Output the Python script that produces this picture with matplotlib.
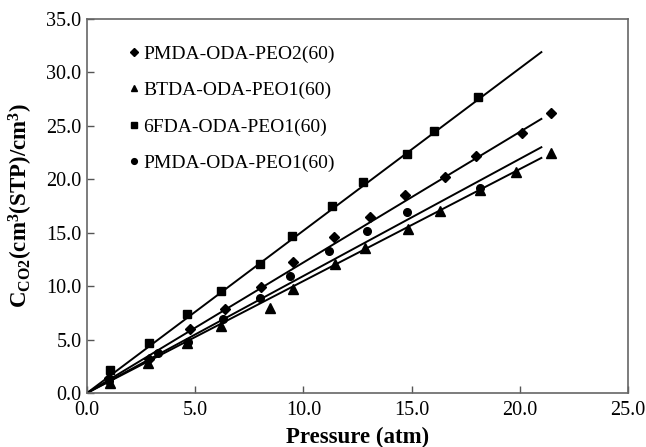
import matplotlib
matplotlib.use("Agg")
import matplotlib.pyplot as plt
import numpy as np

plt.rcParams['font.family'] = ['Liberation Serif', 'DejaVu Serif']
plt.rcParams['mathtext.fontset'] = 'custom'
plt.rcParams['mathtext.rm'] = 'Liberation Serif'
plt.rcParams['mathtext.bf'] = 'Liberation Serif:bold'

# PMDA-ODA-PEO2(60)  (diamonds)
p2_x = [1.0, 2.85, 4.75, 6.4, 8.05, 9.5, 11.4, 13.1, 14.7, 16.55, 18.0, 20.1, 21.45]
p2_y = [1.4, 3.15, 5.95, 7.85, 9.95, 12.25, 14.6, 16.5, 18.5, 20.25, 22.2, 24.3, 26.2]
# BTDA-ODA-PEO1(60)  (triangles)
bt_x = [1.05, 2.8, 4.6, 6.2, 8.45, 9.5, 11.45, 12.85, 14.85, 16.3, 18.15, 19.85, 21.45]
bt_y = [0.95, 2.8, 4.65, 6.3, 7.95, 9.75, 12.1, 13.6, 15.35, 17.0, 19.0, 20.7, 22.45]
# 6FDA-ODA-PEO1(60)  (squares)
f6_x = [1.05, 2.88, 4.61, 6.2, 8.0, 9.48, 11.3, 12.77, 14.8, 16.04, 18.08]
f6_y = [2.15, 4.7, 7.36, 9.57, 12.1, 14.65, 17.5, 19.77, 22.4, 24.55, 27.67]
# PMDA-ODA-PEO1(60)  (circles)
p1_x = [1.0, 3.3, 4.68, 6.3, 8.0, 9.38, 11.2, 12.95, 14.8, 18.15]
p1_y = [1.15, 3.77, 4.8, 6.9, 8.93, 10.92, 13.3, 15.15, 16.97, 19.16]

# linear fits: end values at x = 21
fit_x = [0.0, 21.0]
fit_p2 = [0.0, 25.65]
fit_bt = [0.0, 22.0]
fit_f6 = [0.0, 31.9]
fit_p1 = [0.0, 23.0]

labels = ['PMDA-ODA-PEO2(60)', 'BTDA-ODA-PEO1(60)', '6FDA-ODA-PEO1(60)', 'PMDA-ODA-PEO1(60)']
ticks_x = [0.0, 5.0, 10.0, 15.0, 20.0, 25.0]
ticks_y = [0.0, 5.0, 10.0, 15.0, 20.0, 25.0, 30.0, 35.0]

fig = plt.figure(figsize=(6.46, 4.47), dpi=100)
ax = fig.add_axes([0.1347, 0.1208, 0.8373, 0.8367])

lw = 1.4
for fy in (fit_p2, fit_bt, fit_f6, fit_p1):
    ax.plot(fit_x, fy, color='black', lw=lw, zorder=2)

ax.plot(p2_x, p2_y, 'D', color='black', ms=5.5, ls='none', label=labels[0], zorder=3)
ax.plot(bt_x, bt_y, '^', color='black', ms=6.5, ls='none', label=labels[1], zorder=3)
ax.plot(f6_x, f6_y, 's', color='black', ms=6, ls='none', label=labels[2], zorder=3)
ax.plot(p1_x, p1_y, 'o', color='black', ms=5.5, ls='none', label=labels[3], zorder=3)

ax.set_xlim(0, 25)
ax.set_ylim(0, 35)
ax.set_xticks(ticks_x)
ax.set_yticks(ticks_y)
ax.set_xticklabels([f'{v:.1f}' for v in ticks_x])
ax.set_yticklabels([f'{v:.1f}' for v in ticks_y])
ax.tick_params(direction='in', length=5, width=1, labelsize=14.5, colors='#555555', labelcolor='black')
ax.tick_params(axis='x', pad=6)
ax.tick_params(axis='y', pad=4)
for s in ax.spines.values():
    s.set_color('#666666')
    s.set_linewidth(1.2)

ax.set_xlabel('Pressure (atm)', fontsize=16.5, fontweight='bold', labelpad=5)
ax.set_ylabel(r'$\mathbf{C_{CO2}(cm^{3}(STP)/cm^{3})}$', fontsize=16.5, labelpad=8)

leg = ax.legend(loc='upper left', bbox_to_anchor=(0.055, 0.962), frameon=False, fontsize=14,
                handlelength=0.6, handletextpad=0.15, labelspacing=0.97, markerscale=0.75,
                borderaxespad=0.2)

fig.savefig('out.png', dpi=100)
